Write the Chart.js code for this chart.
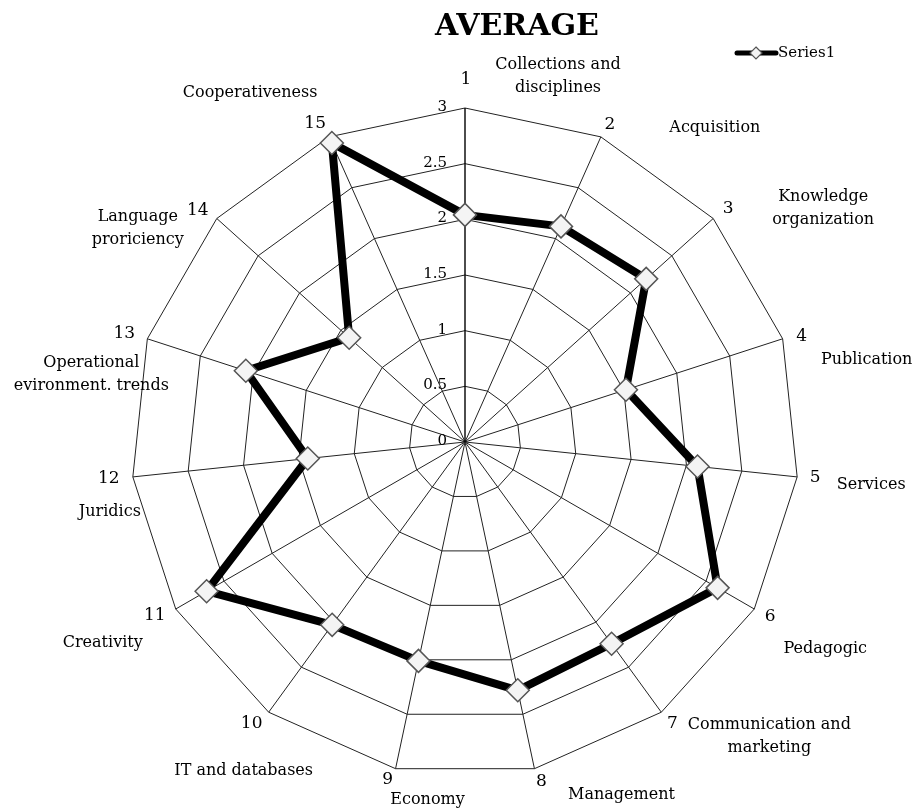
<!DOCTYPE html>
<html>
<head>
<meta charset="utf-8">
<script src="https://cdn.jsdelivr.net/npm/chart.js@4.4.0/dist/chart.umd.min.js"></script>
<style>
  html, body { margin: 0; padding: 0; background: #ffffff; }
  canvas { display: block; }
</style>
</head>
<body>
<canvas id="c" width="916" height="812"></canvas>
<script>
// ---------- data ----------
const chartTitle = 'AVERAGE';
const seriesName = 'Series1';
const axisNumbers = ['1','2','3','4','5','6','7','8','9','10','11','12','13','14','15'];
const axisNames = [
  ['Collections and', 'disciplines'],
  ['Acquisition'],
  ['Knowledge', 'organization'],
  ['Publication'],
  ['Services'],
  ['Pedagogic'],
  ['Communication and', 'marketing'],
  ['Management'],
  ['Economy'],
  ['IT and databases'],
  ['Creativity'],
  ['Juridics'],
  ['Operational', 'evironment. trends'],
  ['Language', 'proriciency'],
  ['Cooperativeness']
];
const averageValues = [2.04, 2.12, 2.19, 1.52, 2.10, 2.62, 2.24, 2.28, 2.01, 2.03, 2.68, 1.42, 2.07, 1.40, 2.94];
const tickValues = [0, 0.5, 1, 1.5, 2, 2.5, 3];

// ---------- layout (label nudges relative to outer vertex) ----------
const numberNudge = [[1,-28],[9,-12],[15,-10],[19,-2],[18,1],[16,8],[11,11],[7,13],[-8,11],[-17,11],[-21,7],[-24,2],[-23,-5],[-19,-8],[-14,-13]];
const nameNudge = [[93,-32],[114,-9],[110,-10],[84,21],[74,8],[71,40],[108,24],[87,26],[32,31],[-25,59],[-73,34],[-23,35],[-56,36],[-79,10],[-79,-44]];

const FONT = '"DejaVu Serif", "Liberation Serif", serif';

const decor = {
  id: 'decor',
  afterDraw(chart) {
    const ctx = chart.ctx;
    const s = chart.scales.r;
    ctx.save();
    ctx.fillStyle = '#000';
    ctx.textBaseline = 'middle';

    // title
    ctx.font = 'bold 30px ' + FONT;
    ctx.textAlign = 'center';
    ctx.fillText(chartTitle, 517, 27);

    // radial tick labels (right aligned, left of axis 1)
    ctx.font = '15px ' + FONT;
    ctx.textAlign = 'right';
    s.ticks.forEach(t => {
      const y = s.yCenter - s.getDistanceFromCenterForValue(t.value);
      ctx.fillText(t.label, s.xCenter - 18, y - 1);
    });

    // axis numbers and names
    ctx.textAlign = 'center';
    axisNumbers.forEach((n, i) => {
      const p = s.getPointPosition(i, s.drawingArea);
      ctx.font = '17px ' + FONT;
      ctx.fillText(n, p.x + numberNudge[i][0], p.y + numberNudge[i][1]);
      ctx.font = '16px ' + FONT;
      const lines = axisNames[i];
      const lh = 23;
      const cx = p.x + nameNudge[i][0];
      const cy = p.y + nameNudge[i][1];
      lines.forEach((ln, k) => {
        ctx.fillText(ln, cx, cy + (k - (lines.length - 1) / 2) * lh);
      });
    });

    // legend
    const ds = chart.data.datasets[0];
    const ly = 53;
    ctx.strokeStyle = '#000';
    ctx.lineWidth = 5;
    ctx.lineCap = 'round';
    ctx.beginPath();
    ctx.moveTo(737, ly);
    ctx.lineTo(776, ly);
    ctx.stroke();
    ctx.beginPath();
    const mx = 756, mr = 6;
    ctx.moveTo(mx, ly - mr); ctx.lineTo(mx + mr, ly); ctx.lineTo(mx, ly + mr); ctx.lineTo(mx - mr, ly); ctx.closePath();
    ctx.fillStyle = '#f4f4f4';
    ctx.fill();
    ctx.lineWidth = 1.2;
    ctx.strokeStyle = '#555';
    ctx.stroke();
    ctx.fillStyle = '#000';
    ctx.font = '15px ' + FONT;
    ctx.textAlign = 'left';
    ctx.fillText(ds.label, 778, ly);

    ctx.restore();
  }
};

new Chart(document.getElementById('c'), {
  type: 'radar',
  data: {
    labels: axisNames.map(a => a.join(' ')),
    datasets: [{
      label: seriesName,
      data: averageValues,
      borderColor: '#000',
      borderWidth: 8,
      borderJoinStyle: 'round',
      backgroundColor: 'rgba(0,0,0,0)',
      fill: false,
      pointStyle: 'rectRot',
      pointRadius: 11.5,
      pointBackgroundColor: '#f4f4f4',
      pointBorderColor: '#555',
      pointBorderWidth: 1.5
    }]
  },
  options: {
    responsive: false,
    animation: false,
    devicePixelRatio: 1,
    layout: { padding: { left: 131, right: 117, top: 108, bottom: 36 } },
    plugins: {
      legend: { display: false },
      title: { display: false },
      tooltip: { enabled: false }
    },
    scales: {
      r: {
        min: tickValues[0],
        max: tickValues[tickValues.length - 1],
        ticks: { stepSize: tickValues[1] - tickValues[0], display: false, callback: (v) => String(v) },
        pointLabels: { display: false },
        grid: { color: '#222', lineWidth: 1, circular: false },
        angleLines: { color: (c) => c.index === 0 ? '#000' : '#222', lineWidth: (c) => c.index === 0 ? 1.4 : 1 }
      }
    }
  },
  plugins: [decor]
});
</script>
</body>
</html>
